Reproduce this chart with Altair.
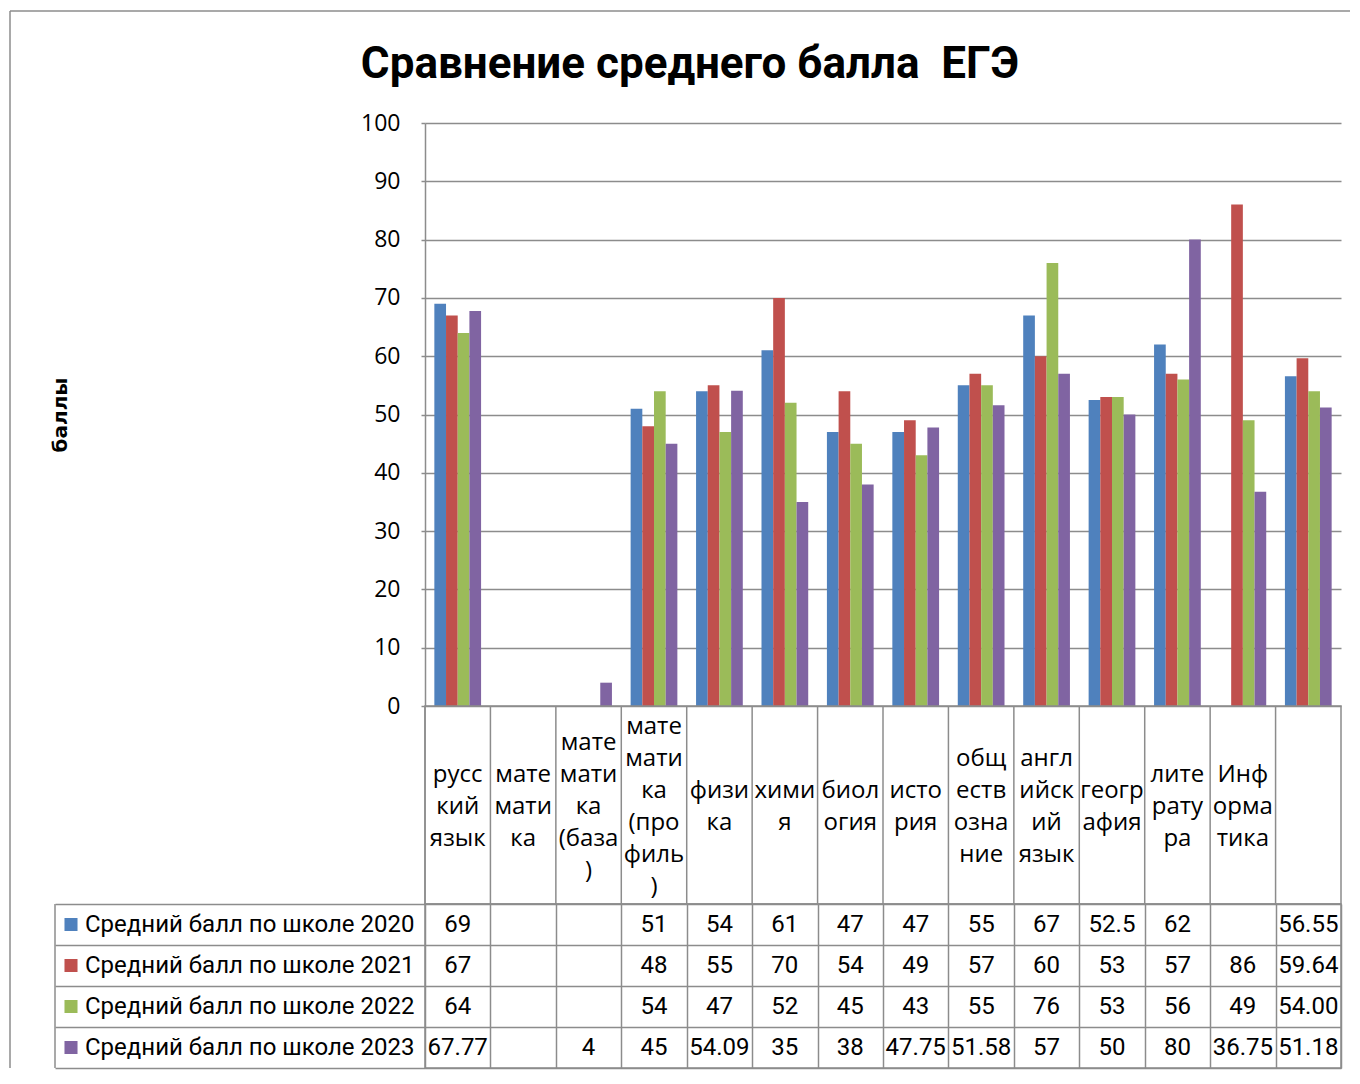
import altair as alt
import pandas as pd

# ---------------- data ----------------
subjects = ["русский язык", "математика", "математика (база)", "математика (профиль)",
            "физика", "химия", "биология", "история", "обществознание",
            "английский язык", "география", "литература", "Информатика", "средний"]
header_labels = ["русс\nкий\nязык", "мате\nмати\nка", "мате\nмати\nка\n(база\n)",
                 "мате\nмати\nка\n(про\nфиль\n)", "физи\nка", "хими\nя", "биол\nогия",
                 "исто\nрия", "общ\nеств\nозна\nние", "англ\nийск\nий\nязык",
                 "геогр\nафия", "лите\nрату\nра", "Инф\nорма\nтика", ""]

series = ["Средний балл по школе 2020", "Средний балл по школе 2021",
          "Средний балл по школе 2022", "Средний балл по школе 2023"]
s2020 = [69, None, None, 51, 54, 61, 47, 47, 55, 67, 52.5, 62, None, 56.55]
s2021 = [67, None, None, 48, 55, 70, 54, 49, 57, 60, 53, 57, 86, 59.64]
s2022 = [64, None, None, 54, 47, 52, 45, 43, 55, 76, 53, 56, 49, 54.00]
s2023 = [67.77, None, 4, 45, 54.09, 35, 38, 47.75, 51.58, 57, 50, 80, 36.75, 51.18]
y_ticks = [0, 10, 20, 30, 40, 50, 60, 70, 80, 90, 100]
title_text = "Сравнение среднего балла\u00a0 ЕГЭ"

colors = ["#4F81BD", "#C0504D", "#9BBB59", "#8064A2"]
GRID = "#8c8c8c"
LW = 1.5

rows = []
for s, vals in zip(series, [s2020, s2021, s2022, s2023]):
    for subj, v in zip(subjects, vals):
        if v is None:
            continue
        label = f"{v:.2f}" if subj == subjects[-1] else f"{v:g}"
        rows.append({"subject": subj, "series": s, "value": v, "label": label})
df = pd.DataFrame(rows)

W = 916
H_BAR = 583
H_HEAD = 198
H_TAB = 164
LINE_H = 32

x_scale = alt.Scale(domain=subjects, paddingInner=0, paddingOuter=0)
color_enc = alt.Color("series:N", scale=alt.Scale(domain=series, range=colors), legend=None)
TFONT = "Roboto"

# ---------------- bar chart ----------------
bars = alt.Chart(df).mark_bar().encode(
    x=alt.X("subject:N", sort=subjects, scale=x_scale, axis=None),
    xOffset=alt.XOffset("series:N", sort=series,
                        scale=alt.Scale(domain=series, paddingInner=0, paddingOuter=0.8)),
    y=alt.Y("value:Q", scale=alt.Scale(domain=[0, 100], nice=False),
            axis=alt.Axis(values=y_ticks, title="баллы", grid=True, gridColor=GRID,
                          gridWidth=LW, domainColor=GRID, domainWidth=LW, tickColor=GRID,
                          tickWidth=LW, tickSize=4, labelPadding=21,
                          labelFont="Open Sans", labelFontSize=23, labelColor="black",
                          titleFont="DejaVu Sans", titleFontSize=20, titleFontWeight="bold",
                          titleColor="black", titleX=-365, titleY=H_BAR / 2, titleAngle=270,
                          titleAlign="center", titleBaseline="middle")),
    color=color_enc,
)

one = pd.DataFrame({"k": [0]})
frame_top = alt.Chart(one).mark_rule(color=GRID, strokeWidth=LW).encode(
    x=alt.value(-415), x2=alt.value(925), y=alt.value(-112))
frame_left = alt.Chart(one).mark_rule(color=GRID, strokeWidth=LW).encode(
    x=alt.value(-415), y=alt.value(-112), y2=alt.value(H_BAR + H_HEAD + H_TAB))
title = alt.Chart(one).mark_text(text=title_text, font="Roboto", fontSize=44,
                                 fontWeight="bold", color="black", align="center",
                                 baseline="alphabetic").encode(
    x=alt.value(265), y=alt.value(-45))

bar_chart = alt.layer(bars, frame_top, frame_left, title).properties(width=W, height=H_BAR)

# ---------------- header row of the data table ----------------
header_df = pd.DataFrame({"subject": subjects, "label": header_labels,
                          "nlines": [len(h.split("\n")) for h in header_labels]})
head_text = alt.Chart(header_df).mark_text(
    font="Open Sans", fontSize=24, lineBreak="\n", lineHeight=LINE_H,
    baseline="middle", align="center", color="black"
).encode(
    x=alt.X("subject:N", sort=subjects, scale=x_scale, axis=None),
    # first line of a label sits half a block above the row centre
    y=alt.Y("nlines:Q", axis=None,
            scale=alt.Scale(domain=[1, 6], range=[H_HEAD / 2 + 2, H_HEAD / 2 + 2 - 5 * LINE_H / 2])),
    text="label:N",
)
head_grid = alt.Chart(header_df).mark_rule(color=GRID, strokeWidth=LW).encode(
    x=alt.X("subject:N", sort=subjects, scale=x_scale, bandPosition=0, axis=None),
    y=alt.value(0), y2=alt.value(H_HEAD))
header = alt.layer(head_grid, head_text).properties(
    width=W, height=H_HEAD, view=alt.ViewBackground(stroke=GRID, strokeWidth=LW))

# ---------------- data table ----------------
x_grid_axis = alt.Axis(labels=False, ticks=False, domain=False, title=None, grid=True,
                       tickBand="extent", gridColor=GRID, gridWidth=LW)
y_tab_axis = alt.Axis(labels=False, ticks=True, tickSize=370, tickColor=GRID, tickWidth=LW,
                      domain=False, title=None, grid=True, tickBand="extent",
                      gridColor=GRID, gridWidth=LW)
y_tab = alt.Y("series:N", sort=series,
              scale=alt.Scale(domain=series, paddingInner=0, paddingOuter=0),
              axis=y_tab_axis)

cells = alt.Chart(df).mark_text(font=TFONT, fontSize=24, color="black").encode(
    x=alt.X("subject:N", sort=subjects, scale=x_scale, axis=x_grid_axis),
    y=y_tab,
    text="label:N",
)
series_df = pd.DataFrame({"series": series})
leg_sq = alt.Chart(series_df).mark_square(size=170, opacity=1).encode(
    x=alt.value(-354), y=y_tab, color=color_enc)
leg_tx = alt.Chart(series_df).mark_text(font=TFONT, fontSize=24, align="left",
                                        color="black").encode(
    x=alt.value(-340), y=y_tab, text="series:N")
b_left = alt.Chart(one).mark_rule(color=GRID, strokeWidth=LW).encode(
    x=alt.value(-370), y=alt.value(0), y2=alt.value(H_TAB))

table = alt.layer(cells, leg_sq, leg_tx, b_left).properties(
    width=W, height=H_TAB, view=alt.ViewBackground(stroke=GRID, strokeWidth=LW))

chart = alt.vconcat(bar_chart, header, table, spacing=0, bounds="flush").properties(
    padding={"left": 1, "top": 2, "right": 0, "bottom": 0},
).configure_view(stroke=None)

chart.save("out.html", embed_options={"renderer": "svg", "actions": False})
